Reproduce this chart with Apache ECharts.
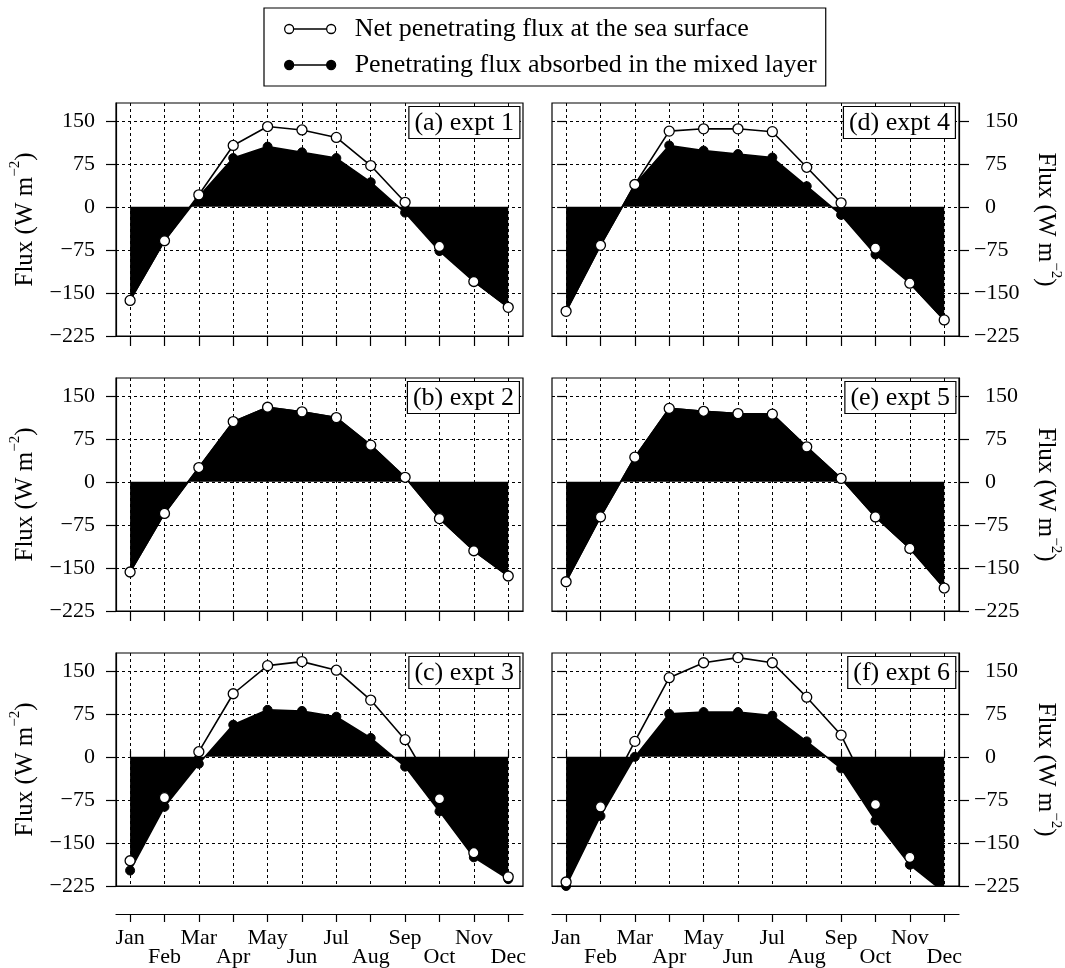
<!DOCTYPE html>
<html>
<head>
<meta charset="utf-8">
<script src="https://cdn.jsdelivr.net/npm/echarts@6/dist/echarts.min.js"></script>
<style>
html, body {margin:0; padding:0; background:#fff;}
#chart {width:1065px; height:968px;}
</style>
</head>
<body>
<div id="chart"></div>
<script>
var months = ['Jan','Feb','Mar','Apr','May','Jun','Jul','Aug','Sep','Oct','Nov','Dec'];
var monthIdx = [0,1,2,3,4,5,6,7,8,9,10,11];
var upperMonths = [0,2,4,6,8,10];   // Jan, Mar, May ... on the first label row
var lowerMonths = [1,3,5,7,9,11];   // Feb, Apr, Jun ... on the second row
var yTicks = [-225,-150,-75,0,75,150];
var panelLabels = ['(a) expt 1','(b) expt 2','(c) expt 3','(d) expt 4','(e) expt 5','(f) expt 6'];
var netName = 'Net penetrating flux at the sea surface';
var absName = 'Penetrating flux absorbed in the mixed layer';

// net penetrating flux at the sea surface (open circles)
var net1 = [-163,-59,21,107,140,134,121,72,8,-69,-130,-175];
var net2 = [-157,-55,25,105,130,122,112,64,8,-64,-120,-164];
var net3 = [-181,-71,9,110,159,166,151,99,30,-73,-167,-209];
var net4 = [-182,-67,39,132,136,136,131,69,7,-72,-133,-197];
var net5 = [-174,-61,43,128,123,119,118,61,6,-61,-116,-185];
var net6 = [-218,-87,27,138,164,173,164,104,38,-83,-175,-230];
// flux absorbed in the mixed layer (filled)
var abs1 = [-163,-59,18,85,105,95,85,43,-10,-77,-130,-175];
var abs2 = [-157,-55,25,105,130,122,112,64,8,-64,-120,-164];
var abs3 = [-198,-87,-12,56,82,80,70,33,-17,-95,-175,-213];
var abs4 = [-182,-67,39,107,98,92,86,36,-14,-83,-133,-197];
var abs5 = [-174,-61,43,128,123,119,118,61,6,-61,-116,-185];
var abs6 = [-225,-103,0,75,78,78,72,27,-20,-111,-188,-236];

var netData = [net1, net2, net3, net4, net5, net6];
var absData = [abs1, abs2, abs3, abs4, abs5, abs6];

var font = "'Liberation Serif', 'Times New Roman', serif";
var colLeft = [116, 552];
var rowTop = [103, 378, 653];
var gw = 407, gh = 233;

function pairs(arr) {
    var out = [];
    for (var i = 0; i < arr.length; i++) out.push([i, arr[i]]);
    return out;
}

function fmtY(v, onRight) {
    if (v < 0) return '\u2212' + Math.abs(v);
    return (onRight ? '\u2002' : '') + v;
}

function dotted() { return {color:'#000', width:1, type:[3,3]}; }
function blackLine() { return {color:'#000', width:1.2}; }
function monthLabel(vals, margin) {
    return {show:true, customValues:vals, margin:margin, color:'#000',
        fontFamily:font, fontSize:22,
        formatter:function (v) { return months[v]; }};
}

// note: no global "top" var here, window.top can't be overwritten
function buildOption() {
    var grids = [], xAxes = [], yAxes = [], series = [], titles = [];

    for (var p = 0; p < 6; p++) {
        var col = p < 3 ? 0 : 1;
        var row = p % 3;
        var gLeft = colLeft[col], gTop = rowTop[row];
        var onRight = col == 1;

        grids.push({left:gLeft, top:gTop, width:gw, height:gh, show:true,
            borderColor:'#000', borderWidth:1.2, backgroundColor:'transparent'});

        var xi = xAxes.length;
        xAxes.push({
            type:'value', gridIndex:p, min:-0.41, max:11.43, position:'bottom',
            axisLine:{show:true, onZero:false, lineStyle:blackLine()},
            axisTick:{show:row < 2, customValues:monthIdx, length:10, lineStyle:blackLine()},
            axisLabel:{show:false, customValues:monthIdx},
            splitLine:{show:true, lineStyle:dotted()}
        });
        if (row == 2) {
            // month axis drawn apart under the bottom panels
            xAxes.push({
                type:'value', gridIndex:p, min:-0.41, max:11.43, position:'bottom', offset:28,
                axisLine:{show:true, onZero:false, lineStyle:blackLine()},
                axisTick:{show:true, customValues:monthIdx, length:8, lineStyle:blackLine()},
                axisLabel:monthLabel(upperMonths, 13),
                splitLine:{show:false}
            });
            xAxes.push({
                type:'value', gridIndex:p, min:-0.41, max:11.43, position:'bottom', offset:28,
                axisLine:{show:false},
                axisTick:{show:true, inside:true, customValues:monthIdx, length:6, lineStyle:blackLine()},
                axisLabel:monthLabel(lowerMonths, 32),
                splitLine:{show:false}
            });
        }

        var yi = yAxes.length;
        yAxes.push({
            type:'value', gridIndex:p, min:-225, max:181, position:onRight ? 'right' : 'left',
            axisLine:{show:true, onZero:false, lineStyle:blackLine()},
            axisTick:{show:true, customValues:yTicks, length:10, lineStyle:blackLine()},
            axisLabel:{show:true, customValues:yTicks, margin:onRight ? 15 : 21, color:'#000',
                fontFamily:font, fontSize:22,
                formatter:(function (r) { return function (v) { return fmtY(v, r); }; })(onRight)},
            splitLine:{show:true, lineStyle:dotted()},
            name:'{a|Flux (W m}{s|\u22122}{a|)}',
            nameLocation:'middle', nameGap:onRight ? 74 : 78, nameRotate:onRight ? -90 : 90,
            nameTextStyle:{color:'#000', fontFamily:font, fontSize:25,
                rich:{a:{fontFamily:font, fontSize:25, lineHeight:30, verticalAlign:'bottom', color:'#000'},
                      s:{fontFamily:font, fontSize:15, lineHeight:15, verticalAlign:'top', color:'#000'}}}
        });
        if (onRight) {
            // short outer ticks on the left side of the right panels
            yAxes.push({
                type:'value', gridIndex:p, min:-225, max:181, position:'left',
                axisLine:{show:false},
                axisTick:{show:true, customValues:yTicks, length:9, lineStyle:blackLine()},
                axisLabel:{show:false, customValues:yTicks},
                splitLine:{show:false}
            });
        }

        series.push({
            type:'line', name:absName, xAxisIndex:xi, yAxisIndex:yi,
            data:pairs(absData[p]), symbol:'circle', symbolSize:9,
            itemStyle:{color:'#000', borderColor:'#000'},
            lineStyle:{color:'#000', width:1.6},
            areaStyle:{color:'#000', opacity:1},
            clip:true, z:2, animation:false
        });
        series.push({
            type:'line', name:netName, xAxisIndex:xi, yAxisIndex:yi,
            data:pairs(netData[p]), symbol:'circle', symbolSize:10,
            itemStyle:{color:'#fff', borderColor:'#000', borderWidth:1.3},
            lineStyle:{color:'#000', width:1.6},
            clip:true, z:3, animation:false
        });

        titles.push({
            text:panelLabels[p], right:1065 - (gLeft + gw) + 3, top:gTop + 3,
            padding:[3,6,2,6], borderColor:'#000', borderWidth:1.2, backgroundColor:'#fff',
            textStyle:{fontFamily:font, fontSize:26, fontWeight:'normal', color:'#000', lineHeight:28},
            z:10
        });
    }

    return {
        animation:false,
        backgroundColor:'#fff',
        title:titles,
        legend:{
            left:264, top:8, orient:'vertical', itemGap:6,
            padding:[6,9,6,20], borderColor:'#000', borderWidth:1.2,
            itemWidth:51, itemHeight:9, selectedMode:false,
            icon:'path://M0.5,5a4.5,4.5 0 1,0 9,0a4.5,4.5 0 1,0 -9,0Z M9.5,5L42.5,5 M42.5,5a4.5,4.5 0 1,0 9,0a4.5,4.5 0 1,0 -9,0Z',
            textStyle:{fontFamily:font, fontSize:26, color:'#000', lineHeight:30, padding:[0,0,0,14]},
            data:[
                {name:netName, itemStyle:{color:'#fff', borderColor:'#000', borderWidth:1.3}},
                {name:absName, itemStyle:{color:'#000', borderColor:'#000', borderWidth:1.3}}
            ]
        },
        grid:grids,
        xAxis:xAxes,
        yAxis:yAxes,
        series:series
    };
}

var chart = echarts.init(document.getElementById('chart'));
chart.setOption(buildOption());
</script>
</body>
</html>
